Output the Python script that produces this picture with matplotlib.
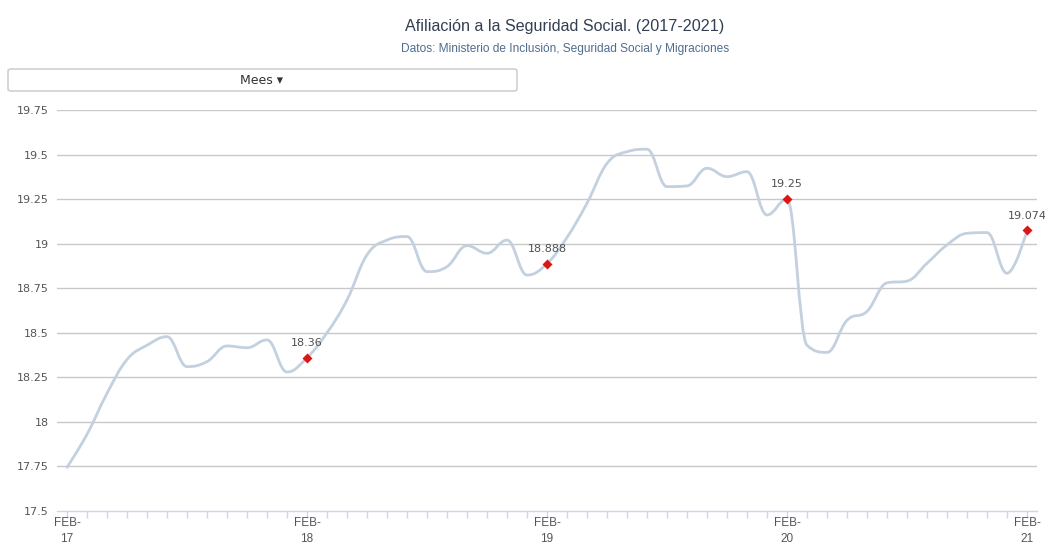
import matplotlib
matplotlib.use("Agg")
import matplotlib.pyplot as plt
from matplotlib.path import Path
from matplotlib.patches import PathPatch, FancyBboxPatch

# Afiliados (millones), mensual feb-2017 .. feb-2021
values = [
    17.745, 17.93, 18.16, 18.35, 18.43, 18.478, 18.31, 18.338, 18.426, 18.416, 18.46, 18.28,
    18.36, 18.50, 18.684, 18.937, 19.02, 19.04, 18.843, 18.871, 18.989, 18.946, 19.02, 18.824,
    18.888, 19.035, 19.227, 19.45, 19.516, 19.53, 19.32, 19.324, 19.423, 19.376, 19.404, 19.161,
    19.25, 18.43, 18.39, 18.57, 18.62, 18.78, 18.79, 18.89, 18.993, 19.058, 19.062, 18.834,
    19.074,
]
months = list(range(len(values)))
tick_pos = [0, 12, 24, 36, 48]
tick_labels = ["FEB-\n17", "FEB-\n18", "FEB-\n19", "FEB-\n20", "FEB-\n21"]
marked = [12, 24, 36, 48]
marked_labels = ["18.36", "18.888", "19.25", "19.074"]
y_ticks = [17.5, 17.75, 18, 18.25, 18.5, 18.75, 19, 19.25, 19.5, 19.75]
y_tick_labels = ["17.5", "17.75", "18", "18.25", "18.5", "18.75", "19", "19.25", "19.5", "19.75"]


def spline_path(xs, ys, smoothing=1.5):
    # curva tipo "spline" de Highcharts con bezier cubicas
    n = len(xs)
    denom = smoothing + 1
    left = [(xs[i], ys[i]) for i in range(n)]
    right = [(xs[i], ys[i]) for i in range(n)]
    for i in range(1, n - 1):
        px, py = xs[i], ys[i]
        lx, ly = xs[i - 1], ys[i - 1]
        nx, ny = xs[i + 1], ys[i + 1]
        lcx = (smoothing * px + lx) / denom
        lcy = (smoothing * py + ly) / denom
        rcx = (smoothing * px + nx) / denom
        rcy = (smoothing * py + ny) / denom
        corr = 0
        if rcx != lcx:
            corr = (rcy - lcy) * (rcx - px) / (rcx - lcx) + py - rcy
        lcy += corr
        rcy += corr
        if lcy > ly and lcy > py:
            lcy = max(ly, py)
            rcy = 2 * py - lcy
        elif lcy < ly and lcy < py:
            lcy = min(ly, py)
            rcy = 2 * py - lcy
        if rcy > ny and rcy > py:
            rcy = max(ny, py)
            lcy = 2 * py - rcy
        elif rcy < ny and rcy < py:
            rcy = min(ny, py)
            lcy = 2 * py - rcy
        left[i] = (lcx, lcy)
        right[i] = (rcx, rcy)
    verts = [(xs[0], ys[0])]
    codes = [Path.MOVETO]
    for i in range(1, n):
        verts += [right[i - 1], left[i], (xs[i], ys[i])]
        codes += [Path.CURVE4] * 3
    return Path(verts, codes)


W, H = 1045, 551
fig = plt.figure(figsize=(W / 100, H / 100), dpi=100)
ax = fig.add_axes([57 / W, (H - 511) / H, (1037 - 57) / W, (511 - 110) / H])

ax.set_xlim(-0.5, 48.5)
ax.set_ylim(17.5, 19.75)

for y in y_ticks[1:]:
    ax.axhline(y, color="#c8c8c8", lw=1, zorder=1)

ax.add_patch(PathPatch(spline_path(months, values), facecolor="none",
                       edgecolor="#c3d0df", lw=2, zorder=3, capstyle="round"))

mx = [months[i] for i in marked]
my = [values[i] for i in marked]
ax.scatter(mx, my, marker="D", s=26, color="#dd1515", zorder=4, linewidths=0)
for x, y, t in zip(mx, my, marked_labels):
    ax.annotate(t, (x, y), xytext=(0, 7), textcoords="offset points", ha="center",
                va="bottom", fontsize=8, color="#505050", family="DejaVu Sans")

for s in ["top", "right", "left"]:
    ax.spines[s].set_visible(False)
ax.spines["bottom"].set_color("#ccd6eb")
ax.spines["bottom"].set_linewidth(1)

ax.set_xticks(tick_pos)
ax.set_xticklabels(tick_labels, fontsize=8.5, color="#555555", family="Liberation Sans",
                   linespacing=1.45)
ax.set_xticks(months, minor=True)
ax.tick_params(axis="x", which="both", length=5, color="#ccd6eb", width=1, pad=-1)
ax.set_yticks(y_ticks)
ax.set_yticklabels(y_tick_labels, fontsize=8, color="#555555", family="DejaVu Sans")
ax.tick_params(axis="y", length=0, pad=6)

fig.text(565 / W, 1 - 27 / H, "Afiliación a la Seguridad Social. (2017-2021)",
         ha="center", va="center", fontsize=11.6, color="#333f50", family="Liberation Sans")
fig.text(565 / W, 1 - 49 / H, "Datos: Ministerio de Inclusión, Seguridad Social y Migraciones",
         ha="center", va="center", fontsize=8.6, color="#4f6d8f", family="Liberation Sans")

btn = FancyBboxPatch((8 / W, 1 - 91 / H), (517 - 8) / W, 22 / H,
                     boxstyle="round,pad=0,rounding_size=0.003",
                     transform=fig.transFigure, facecolor="white", edgecolor="#c8c8c8", lw=1)
fig.patches.append(btn)
fig.text(262 / W, 1 - 80 / H, "Mees ▾", ha="center", va="center", fontsize=9,
         color="#333333", family="DejaVu Sans")

fig.savefig("out.png", dpi=100)
